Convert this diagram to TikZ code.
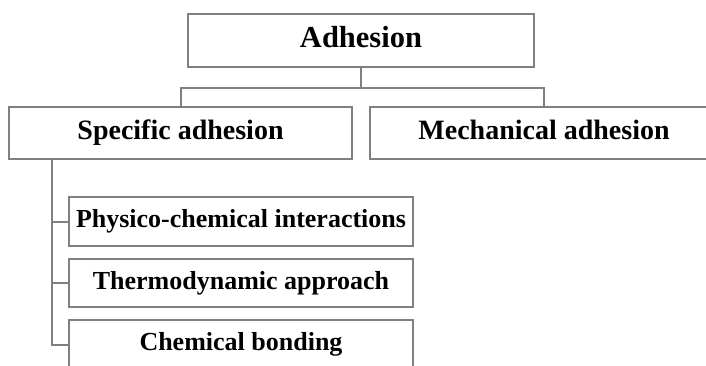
\documentclass[tikz,border=0pt]{standalone}
\usepackage{fontspec}
\setmainfont{Liberation Serif}
\usetikzlibrary{positioning}
\tikzset{
  box/.style={draw=linegray, line width=2pt, minimum height=52pt, inner sep=0pt,
    text height=19pt, text depth=6pt,
    font=\fontsize{28}{31}\selectfont\bfseries},
  subbox/.style={box, minimum width=344pt, minimum height=49pt,
    text height=18pt, text depth=6pt,
    font=\fontsize{26}{29}\selectfont\bfseries},
  link/.style={draw=linegray, line width=2pt}
}
\definecolor{linegray}{RGB}{128,128,128}
\begin{document}
\begin{tikzpicture}[x=1pt, y=1pt]
    \clip (0, 0) rectangle (706, -365);
    % top level
    \node[box, minimum width=346pt, minimum height=53pt, text height=21pt, text depth=7pt,
      font=\fontsize{30.5}{33}\selectfont\bfseries] (adh) at (361, -40.5) {Adhesion};
    % second level
    \node[box, minimum width=343pt] (spec) at (180.5, -133) {Specific adhesion};
    \node[box, minimum width=348pt] (mech) at (544, -133) {Mechanical adhesion};
    \draw[link] (adh.south) -- ++(0, -20) coordinate (split);
    \draw[link] (split) -| (spec.north);
    \draw[link] (split) -| (mech.north);
    % kinds of specific adhesion
    \node[subbox] (phys) at (241, -221.5) {Physico-chemical interactions};
    \node[subbox, minimum height=48pt] (thermo) at (241, -283) {Thermodynamic approach};
    \node[subbox] (chem) at (241, -344.5) {Chemical bonding};
    \coordinate (bus) at (spec.south -| 52, 0);
    \draw[link] (bus) |- (chem.west);
    \draw[link] (bus) |- (phys.west);
    \draw[link] (bus) |- (thermo.west);
\end{tikzpicture}
\end{document}
